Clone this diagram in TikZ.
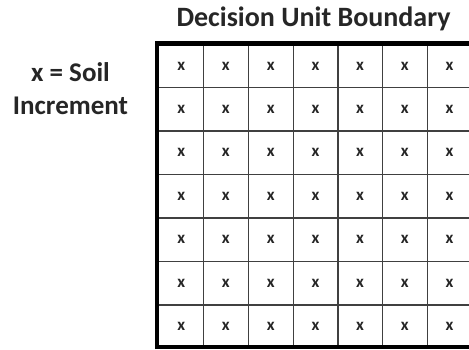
\documentclass[tikz,border=0pt]{standalone}
\usepackage{fontspec}
\setmainfont{Carlito}
\begin{document}
\begin{tikzpicture}[x=1pt,y=-1pt,
  title/.style={font=\bfseries\fontsize{28}{32}\selectfont, text=black!85, inner sep=0pt, anchor=base},
  label/.style={font=\bfseries\fontsize{27}{33.3}\selectfont, text=black!85, align=center, inner sep=0pt},
  mark x/.style={font=\bfseries\fontsize{17}{19}\selectfont, text=black!85, inner sep=0pt},
  gridline/.style={draw=black!75, line width=1.4pt},
  border/.style={draw=black, line width=4.5pt}]
\useasboundingbox (0,0) rectangle (469,349);
\fill[white] (0,0) rectangle (469,349);
% grid lines
\foreach \gx in {203.5,248.3,293.2,337.8,382.5,427.3}
  \draw[gridline] (\gx,45) -- (\gx,347);
\foreach \gy in {87.5,131,174.5,218,261.5,305}
  \draw[gridline] (159,\gy) -- (469,\gy);
% thick boundary
\draw[border] (157,349) -- (157,43.3) -- (469,43.3);
\draw[border] (155,347.2) -- (469,347.2);
% soil increments
\foreach \r/\cy in {1/66.5,2/109.2,3/152.7,4/196.2,5/239.7,6/283.2,7/326}
  \foreach \c/\cx in {1/181.2,2/225.9,3/270.7,4/315.5,5/360.1,6/404.9,7/449.6}
    \node[mark x] (x-\r-\c) at (\cx,\cy) {x};
% labels
\node[title] (title) at (313.5,26.7) {Decision Unit Boundary};
\node[label] (legend) at (70.5,88.5) {x = Soil\\Increment};
\end{tikzpicture}
\end{document}
